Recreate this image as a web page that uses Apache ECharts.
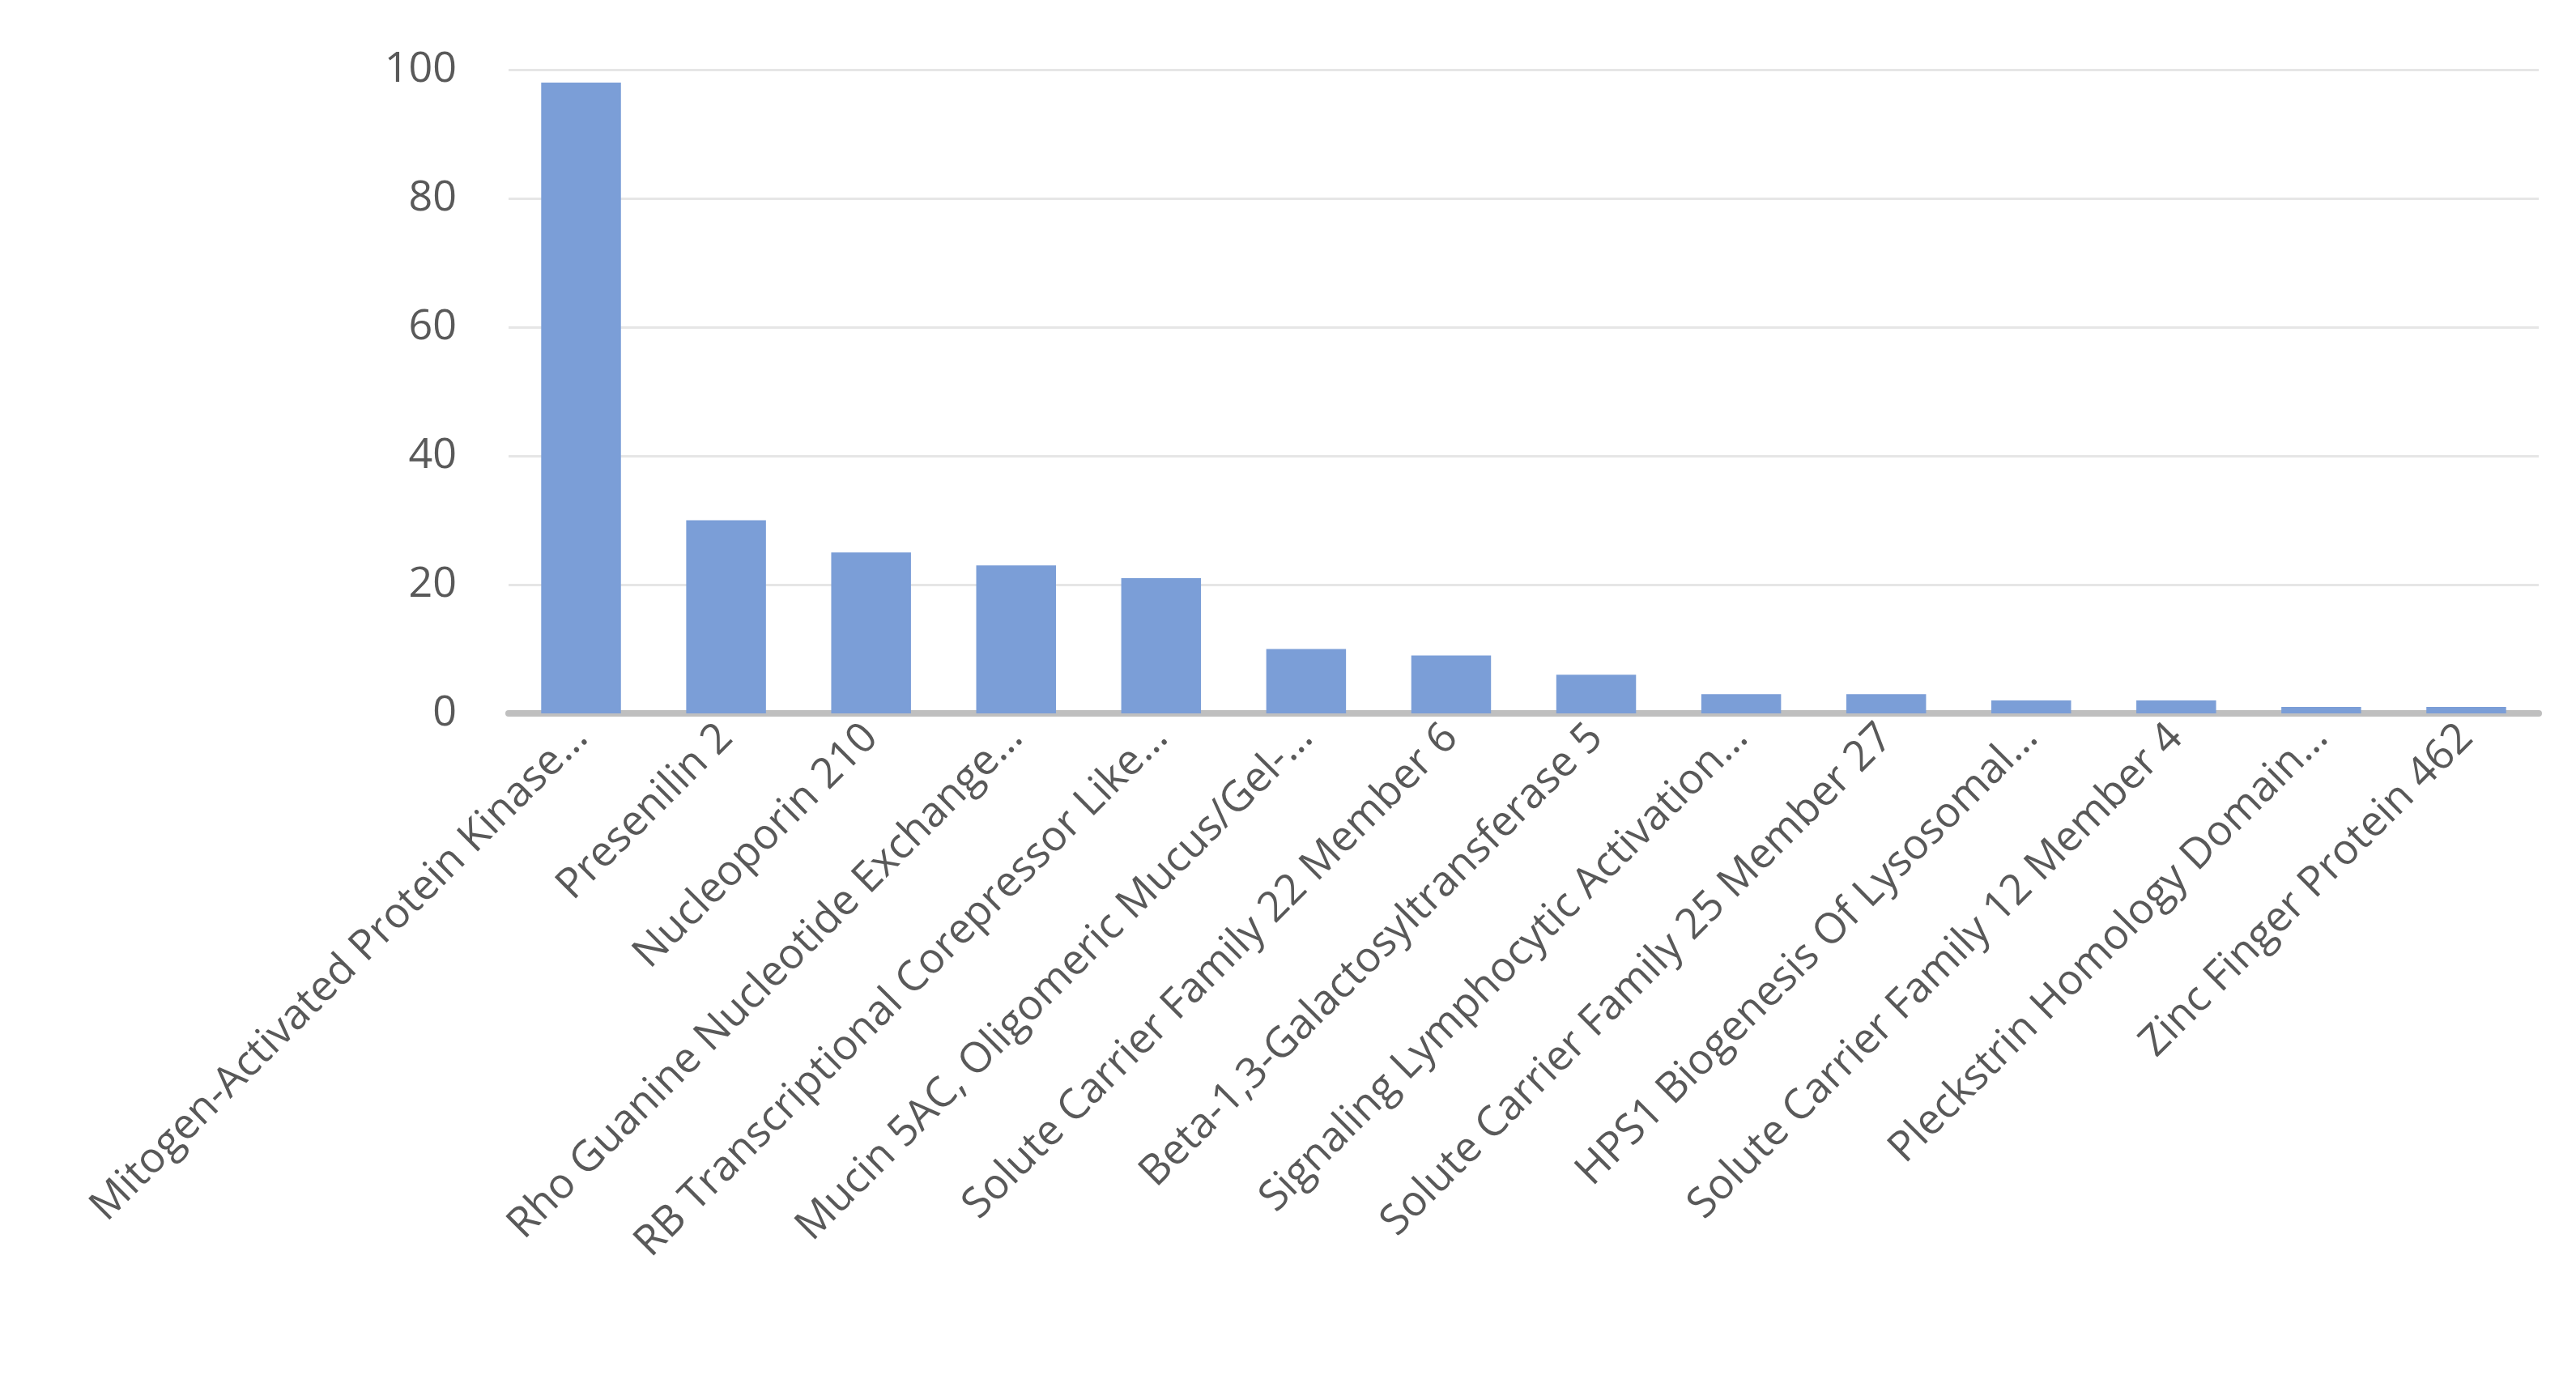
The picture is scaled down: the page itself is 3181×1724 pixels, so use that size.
<!DOCTYPE html>
<html><head><meta charset="utf-8">
<script src="https://cdn.jsdelivr.net/npm/echarts@6/dist/echarts.min.js"></script>
<style>html,body{margin:0;padding:0;background:#fff}#c{width:3181px;height:1724px}</style>
</head><body><div id="c"></div>
<script>
const categories = ["Mitogen-Activated Protein Kinase…","Presenilin 2","Nucleoporin 210","Rho Guanine Nucleotide Exchange…","RB Transcriptional Corepressor Like…","Mucin 5AC, Oligomeric Mucus/Gel-…","Solute Carrier Family 22 Member 6","Beta-1,3-Galactosyltransferase 5","Signaling Lymphocytic Activation…","Solute Carrier Family 25 Member 27","HPS1 Biogenesis Of Lysosomal…","Solute Carrier Family 12 Member 4","Pleckstrin Homology Domain…","Zinc Finger Protein 462"];
const values = [98,30,25,23,21,10,9,6,3,3,2,2,1,1];
const yTicks = [0,20,40,60,80,100];
const chart = echarts.init(document.getElementById('c'));
chart.setOption({
  animation:false,
  grid:{left:628,right:46,top:86,bottom:843,containLabel:false},
  xAxis:{type:'category',data:categories,
    axisLine:{lineStyle:{color:'#bfbfbf',width:8}},axisTick:{show:false},
    axisLabel:{rotate:45,interval:0,fontSize:52,color:'#595959',fontFamily:'Open Sans',margin:22}},
  yAxis:{type:'value',min:0,max:100,interval:20,
    axisLine:{show:false},axisTick:{show:false},
    splitLine:{lineStyle:{color:'#e6e6e6',width:3}},
    axisLabel:{fontSize:52,color:'#595959',fontFamily:'Open Sans',margin:64,
      formatter:v=>yTicks.includes(v)?String(v):''}},
  series:[{type:'bar',data:values,barWidth:'55%',itemStyle:{color:'#7b9ed7'}}]
});
</script></body></html>
